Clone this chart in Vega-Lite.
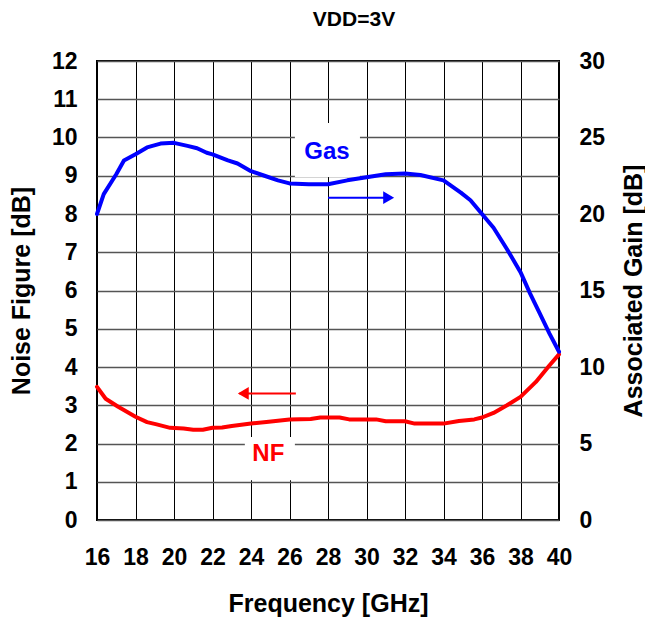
{
  "$schema": "https://vega.github.io/schema/vega-lite/v6.json",
  "width": 462,
  "height": 459,
  "autosize": {"type": "none"},
  "padding": {"left": 97, "top": 61, "right": 86, "bottom": 101},
  "background": "white",
  "title": {"text": "VDD=3V", "fontSize": 21, "font": "Liberation Sans", "fontWeight": "bold", "dx": 26, "offset": 20, "color": "black"},
  "config": {"view": {"stroke": "black", "strokeWidth": 2}, "font": "Liberation Sans"},
  "datasets": {
    "nf": [
      {"f": 16, "v": 3.48}, {"f": 16.45, "v": 3.17}, {"f": 17.1, "v": 2.96}, {"f": 18, "v": 2.7},
      {"f": 18.6, "v": 2.56}, {"f": 19.1, "v": 2.5}, {"f": 19.8, "v": 2.41}, {"f": 20.5, "v": 2.39},
      {"f": 21, "v": 2.36}, {"f": 21.5, "v": 2.36}, {"f": 22, "v": 2.41}, {"f": 22.5, "v": 2.42},
      {"f": 23, "v": 2.46}, {"f": 24, "v": 2.52}, {"f": 24.8, "v": 2.56}, {"f": 26, "v": 2.63},
      {"f": 27.1, "v": 2.64}, {"f": 27.6, "v": 2.68}, {"f": 28.6, "v": 2.68}, {"f": 29.1, "v": 2.63},
      {"f": 30.5, "v": 2.63}, {"f": 31, "v": 2.58}, {"f": 32, "v": 2.58}, {"f": 32.5, "v": 2.52},
      {"f": 34, "v": 2.52}, {"f": 34.8, "v": 2.59}, {"f": 35.6, "v": 2.63}, {"f": 36, "v": 2.68},
      {"f": 36.6, "v": 2.8}, {"f": 37.3, "v": 3.0}, {"f": 38, "v": 3.22}, {"f": 38.8, "v": 3.61},
      {"f": 39.5, "v": 4.04}, {"f": 40, "v": 4.33}
    ],
    "gas": [
      {"f": 16, "g": 20.0}, {"f": 16.35, "g": 21.3}, {"f": 17, "g": 22.6}, {"f": 17.4, "g": 23.5},
      {"f": 18, "g": 23.9}, {"f": 18.6, "g": 24.35}, {"f": 19.3, "g": 24.6}, {"f": 20, "g": 24.65},
      {"f": 20.7, "g": 24.45}, {"f": 21.2, "g": 24.3}, {"f": 21.7, "g": 24.0}, {"f": 22, "g": 23.9},
      {"f": 22.8, "g": 23.5}, {"f": 23.3, "g": 23.3}, {"f": 24, "g": 22.8}, {"f": 24.7, "g": 22.5},
      {"f": 25.4, "g": 22.2}, {"f": 26, "g": 22.0}, {"f": 27, "g": 21.95}, {"f": 28, "g": 21.95},
      {"f": 29, "g": 22.2}, {"f": 30, "g": 22.4}, {"f": 31, "g": 22.6}, {"f": 32, "g": 22.65},
      {"f": 32.8, "g": 22.55}, {"f": 34, "g": 22.2}, {"f": 34.9, "g": 21.4}, {"f": 35.4, "g": 20.9},
      {"f": 36, "g": 20.0}, {"f": 36.6, "g": 19.1}, {"f": 37.3, "g": 17.7}, {"f": 38, "g": 16.2},
      {"f": 38.5, "g": 14.8}, {"f": 39, "g": 13.5}, {"f": 39.5, "g": 12.2}, {"f": 40, "g": 11.0}
    ],
    "boxes": [
      {"f": 26.28, "f2": 29.66, "v": 10.38, "v2": 8.97},
      {"f": 23.68, "f2": 26.28, "v": 2.17, "v2": 1.04}
    ],
    "redArrow": [{"f": 26.33, "f2": 23.4, "v": 3.31}],
    "redHead": [{"f": 23.6, "v": 3.31}],
    "nfLabel": [{"f": 24.9, "v": 1.73, "t": "NF"}],
    "blueArrow": [{"f": 28.0, "f2": 31.3, "g": 21.07}],
    "blueHead": [{"f": 31.15, "g": 21.07}],
    "gasLabel": [{"f": 27.95, "g": 24.05, "t": "Gas"}]
  },
  "encoding": {
    "x": {
      "field": "f", "type": "quantitative",
      "scale": {"domain": [16, 40], "nice": false, "zero": false},
      "axis": {
        "values": [16, 18, 20, 22, 24, 26, 28, 30, 32, 34, 36, 38, 40],
        "grid": true, "gridColor": "black", "gridWidth": 1, "gridOpacity": 1,
        "domain": false, "ticks": false, "labelPadding": 26,
        "labelFontSize": 23, "labelFontWeight": "bold", "labelColor": "black", "labelFont": "Liberation Sans",
        "labelFlush": false, "labelOverlap": false,
        "title": "Frequency [GHz]", "titleFontSize": 25, "titleFontWeight": "bold", "titleColor": "black", "titleFont": "Liberation Sans",
        "titleY": 83, "titleBaseline": "middle"
      }
    }
  },
  "resolve": {"scale": {"y": "independent"}},
  "layer": [
    {
      "encoding": {
        "y": {
          "field": "v", "type": "quantitative",
          "scale": {"domain": [0, 12], "nice": false},
          "axis": {
            "values": [0, 1, 2, 3, 4, 5, 6, 7, 8, 9, 10, 11, 12],
            "grid": true, "gridColor": "#555555", "gridWidth": 1.5, "gridOpacity": 1,
            "domain": false, "ticks": false, "labelPadding": 20,
            "labelFontSize": 23, "labelFontWeight": "bold", "labelColor": "black", "labelFont": "Liberation Sans",
            "labelFlush": false, "labelOverlap": false,
            "title": "Noise Figure [dB]", "titleFontSize": 25, "titleFontWeight": "bold", "titleColor": "black", "titleFont": "Liberation Sans",
            "titleX": -76, "titleY": 229.5, "titleAngle": 270, "titleAlign": "center", "titleBaseline": "middle"
          }
        }
      },
      "layer": [
        {
          "data": {"name": "boxes"},
          "mark": {"type": "rect", "fill": "white", "stroke": null},
          "encoding": {"x2": {"field": "f2"}, "y2": {"field": "v2"}}
        },
        {
          "data": {"name": "nf"},
          "mark": {"type": "line", "color": "#FF0000", "strokeWidth": 4, "strokeJoin": "round", "strokeCap": "round"}
        },
        {
          "data": {"name": "redArrow"},
          "mark": {"type": "rule", "color": "#FF0000", "strokeWidth": 2},
          "encoding": {"x2": {"field": "f2"}}
        },
        {
          "data": {"name": "redHead"},
          "mark": {"type": "point", "shape": "triangle-left", "filled": true, "color": "#FF0000", "size": 160, "opacity": 1}
        },
        {
          "data": {"name": "nfLabel"},
          "mark": {"type": "text", "color": "#FF0000", "fontSize": 24, "fontWeight": "bold", "font": "Liberation Sans", "align": "center", "baseline": "middle"},
          "encoding": {"text": {"field": "t"}}
        }
      ]
    },
    {
      "encoding": {
        "y": {
          "field": "g", "type": "quantitative",
          "scale": {"domain": [0, 30], "nice": false},
          "axis": {
            "orient": "right",
            "values": [0, 5, 10, 15, 20, 25, 30],
            "grid": false, "domain": false, "ticks": false, "labelPadding": 20,
            "labelFontSize": 23, "labelFontWeight": "bold", "labelColor": "black", "labelFont": "Liberation Sans",
            "labelFlush": false, "labelOverlap": false,
            "title": "Associated Gain [dB]", "titleFontSize": 25, "titleFontWeight": "bold", "titleColor": "black", "titleFont": "Liberation Sans",
            "titleX": 74, "titleY": 229.5, "titleAngle": 270, "titleAlign": "center", "titleBaseline": "middle"
          }
        }
      },
      "layer": [
        {
          "data": {"name": "gas"},
          "mark": {"type": "line", "color": "#0000FF", "strokeWidth": 4, "strokeJoin": "round", "strokeCap": "round"}
        },
        {
          "data": {"name": "blueArrow"},
          "mark": {"type": "rule", "color": "#0000FF", "strokeWidth": 2},
          "encoding": {"x2": {"field": "f2"}}
        },
        {
          "data": {"name": "blueHead"},
          "mark": {"type": "point", "shape": "triangle-right", "filled": true, "color": "#0000FF", "size": 160, "opacity": 1}
        },
        {
          "data": {"name": "gasLabel"},
          "mark": {"type": "text", "color": "#0000FF", "fontSize": 24, "fontWeight": "bold", "font": "Liberation Sans", "align": "center", "baseline": "middle"},
          "encoding": {"text": {"field": "t"}}
        }
      ]
    }
  ]
}
